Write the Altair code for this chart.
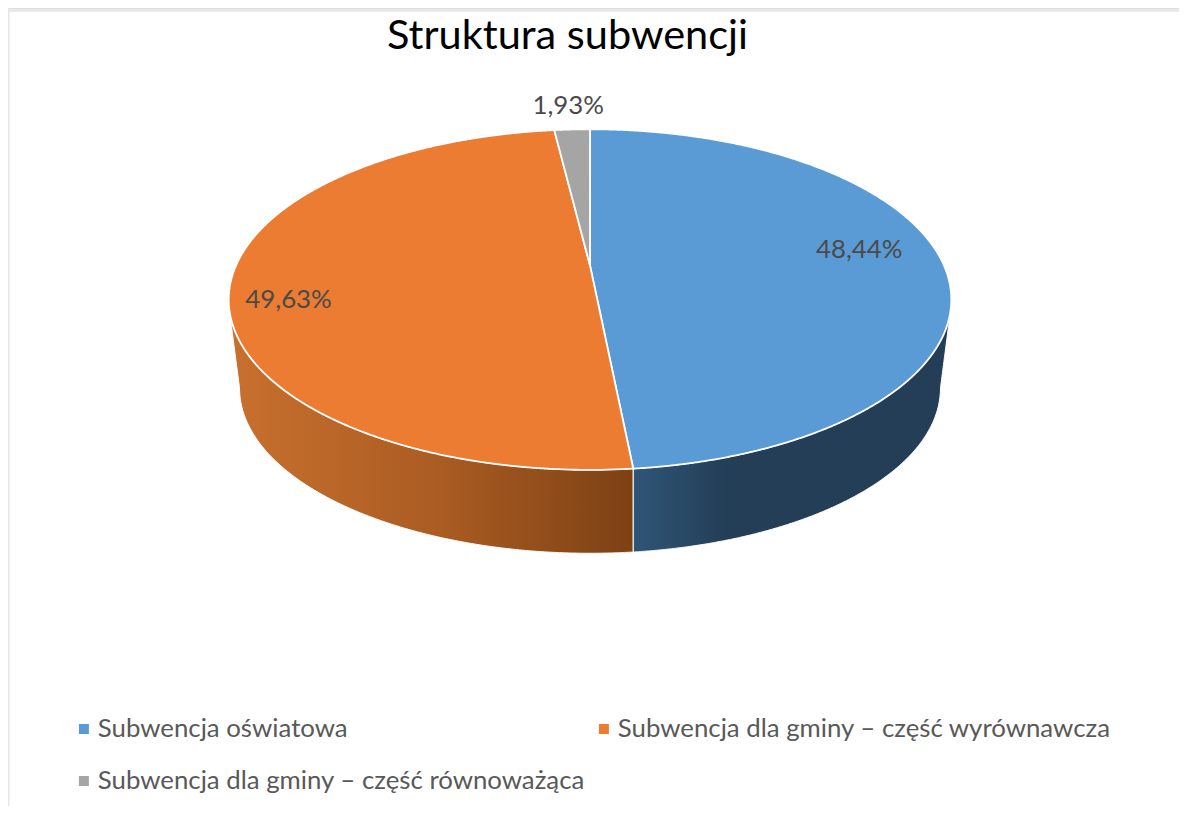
import numpy as np
import pandas as pd
import altair as alt

categories = ["Subwencja oświatowa", "Subwencja dla gminy – część wyrównawcza", "Subwencja dla gminy – część równoważąca"]
shares = [48.44, 49.63, 1.93]
share_labels = ["48,44%", "49,63%", "1,93%"]
colors = ["#5b9bd5", "#eb7c31", "#a5a5a5"]
legend_order = [categories[0], categories[2], categories[1]]   # the legend fills column by column
TITLE = "Struktura subwencji"

W, H = 1171, 798
CX, CY, AX, BY = 582, 257.5, 354, 163.5   # pixel origin and scale of pie units
K, SHRINK, DEPTH = 0.2, 0.97, 89.5 / 163.5
FONT = "Lato"


def project(theta, r=1.0, s=1.0, d=0.0):
    X, Y = r * np.sin(theta), -r * np.cos(theta)
    w = 1 - K * Y
    return s * X / w, d + s * Y / w


thetas = np.linspace(0, 2 * np.pi, 7201)[:-1]
ex, ey = project(thetas)
t_r, t_l = thetas[np.argmax(ex)], thetas[np.argmin(ex)]
up = (thetas > t_l) | (thetas < t_r)
lo = ~up
ux, uy = ex[up], ey[up]
o = np.argsort(ux)
ux, uy = ux[o], uy[o]
lx, ly = ex[lo], ey[lo]
o = np.argsort(lx)
lx, ly = lx[o], ly[o]
x_min, x_max = ex.min(), ex.max()

t_blue = shares[0] / 100 * 2 * np.pi
t_gray = (shares[0] + shares[1]) / 100 * 2 * np.pi
xb, yb = project(t_blue)
xg, yg = project(t_gray)


def upper(x):
    return np.interp(x, ux, uy)


def lower(x):
    return np.interp(x, lx, ly)


def grid(a, b, n=400):
    mid, half = (a + b) / 2, (b - a) / 2
    return np.unique(np.r_[a, b, mid + half * np.sin(np.linspace(-np.pi / 2, np.pi / 2, n))])


rows = []
# blue
x = grid(0, x_max)
y2 = np.where(x < xb, x / xb * yb, lower(x))
rows.append(pd.DataFrame({"x": x, "y": upper(x), "y2": y2, "slice": categories[0]}))
# orange
x = np.unique(np.r_[grid(x_min, xg), grid(xg, 0, 10), grid(0, xb, 10)])
y1 = np.where(x < xg, upper(x), np.where(x < 0, x / xg * yg, x / xb * yb))
rows.append(pd.DataFrame({"x": x, "y": y1, "y2": lower(x), "slice": categories[1]}))
# gray
x = grid(xg, 0, 60)
rows.append(pd.DataFrame({"x": x, "y": upper(x), "y2": x / xg * yg, "slice": categories[2]}))
top = pd.concat(rows, ignore_index=True)

# bottom rim with straight silhouette to the top rim
bx, by = SHRINK * lx, DEPTH + SHRINK * ly
edge = 0.998
pfx = np.r_[x_min * edge, bx, x_max * edge]
pfy = np.r_[lower(x_min * edge), by, lower(x_max * edge)]
bottom = lambda x: np.interp(x, pfx, pfy)


def wall(a, b):
    x = grid(a, b)
    return pd.DataFrame({"x": x, "y": lower(x), "y2": bottom(x)})


xscale = alt.Scale(domain=[-CX / AX, (W - CX) / AX], nice=False, zero=False)
yscale = alt.Scale(domain=[(H - CY) / BY, -CY / BY], nice=False, zero=False)
X = alt.X("x:Q", scale=xscale, axis=None)
Y = alt.Y("y:Q", scale=yscale, axis=None)
Y2 = alt.Y2("y2:Q")

orange_wall = alt.Gradient(gradient="linear", x1=0, x2=1, y1=0, y2=0, stops=[
    alt.GradientStop(color="#c8702e", offset=0),
    alt.GradientStop(color="#ac5d23", offset=0.5),
    alt.GradientStop(color="#7d4114", offset=1)])
blue_wall = alt.Gradient(gradient="linear", x1=0, x2=1, y1=0, y2=0, stops=[
    alt.GradientStop(color="#2f5577", offset=0),
    alt.GradientStop(color="#233e56", offset=0.3),
    alt.GradientStop(color="#233e56", offset=1)])

walls = [
    alt.Chart(wall(x_min * edge, xb)).mark_area(color=orange_wall, stroke="#ffffff", strokeWidth=1, opacity=1).encode(x=X, y=Y, y2=Y2),
    alt.Chart(wall(xb, x_max * edge)).mark_area(color=blue_wall, stroke="#ffffff", strokeWidth=1, opacity=1).encode(x=X, y=Y, y2=Y2),
]

slices = alt.Chart(top).mark_area(stroke="#ffffff", strokeWidth=1.8, opacity=1).encode(
    x=X, y=Y, y2=Y2,
    color=alt.Color("slice:N", scale=alt.Scale(domain=categories, range=colors),
                    legend=alt.Legend(orient="none", legendX=63, legendY=705, columns=2, title=None,
                                      values=legend_order,
                                      symbolType="square", symbolSize=100, symbolStrokeWidth=0,
                                      symbolOpacity=1, labelFontSize=25.8, labelFont=FONT, labelColor="#595959",
                                      labelLimit=700, labelOffset=1, columnPadding=6, rowPadding=20,
                                      clipHeight=32)),
)

mid = np.cumsum([0] + shares[:-1]) + np.array(shares) / 2
mid = mid / 100 * 2 * np.pi
label_r = [0.77, 0.83, 1.2]
label_off = [(-1, -9), (-4, 19), (-1, -2)]
labels = []
for i, s in enumerate(share_labels):
    px, py = project(mid[i], label_r[i])
    labels.append(
        alt.Chart(pd.DataFrame({"x": [px], "y": [py], "t": [s]})).mark_text(
            font=FONT, fontSize=25.8, color="#4a4a4a", dx=label_off[i][0], dy=label_off[i][1]
        ).encode(x=X, y=Y, text="t:N")
    )

frame = [
    alt.Chart(pd.DataFrame({"a": [0]})).mark_rule(color="#e6e6e6", strokeWidth=2).encode(
        x=alt.value(0.5), y=alt.value(2), y2=alt.value(H)),
    alt.Chart(pd.DataFrame({"a": [0]})).mark_rule(color="#e6e6e6", strokeWidth=2.5).encode(
        y=alt.value(2.4), x=alt.value(0), x2=alt.value(W)),
]

chart = alt.layer(*frame, *walls, slices, *labels).properties(
    width=W, height=H, padding=0,
    autosize=alt.AutoSizeParams(type="none"),
    title=alt.TitleParams(TITLE, font=FONT, fontSize=41.5, fontWeight="normal", color="#000000",
                          anchor="middle", dx=-26, offset=-82, baseline="alphabetic"),
).configure_view(stroke=None).configure(background="#ffffff")

chart.save("out.html", embed_options={"renderer": "svg", "actions": False})
